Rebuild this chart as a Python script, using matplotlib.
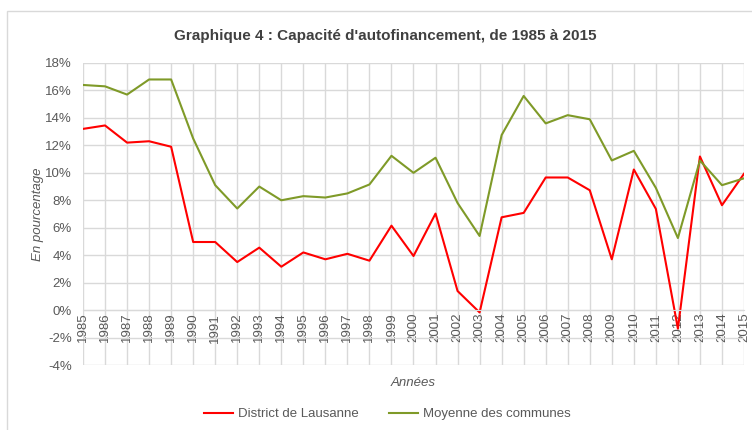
import matplotlib.pyplot as plt
from matplotlib.patches import Rectangle
from matplotlib.ticker import FuncFormatter, MultipleLocator

# Data (percent)
years = list(range(1985, 2016))
lausanne = [13.2, 13.45, 12.2, 12.3, 11.9, 4.96, 4.96, 3.5, 4.55, 3.16,
            4.2, 3.7, 4.1, 3.6, 6.15, 3.94, 7.03, 1.39, -0.17, 6.76,
            7.08, 9.66, 9.66, 8.73, 3.7, 10.24, 7.37, -1.35, 11.19, 7.64, 9.93]
moyenne = [16.4, 16.3, 15.7, 16.8, 16.8, 12.5, 9.1, 7.4, 9.0, 8.0,
           8.3, 8.2, 8.5, 9.15, 11.24, 10.0, 11.1, 7.8, 5.4, 12.75,
           15.6, 13.6, 14.2, 13.9, 10.9, 11.6, 8.9, 5.25, 10.9, 9.1, 9.6]

plt.rcParams['font.family'] = ['Liberation Sans Narrow', 'Liberation Sans', 'DejaVu Sans']
txt = '#595959'
grid = '#d9d9d9'

fig = plt.figure(figsize=(7.52, 4.30), dpi=100)
# outer chart border
fig.patches.append(Rectangle((7 / 752, -0.05), 1.2, 1 - 11 / 430 + 0.05,
                             transform=fig.transFigure, fill=False,
                             edgecolor=grid, linewidth=1))

ax = fig.add_axes([83 / 752, 1 - 365 / 430, (744 - 83) / 752, (365 - 63) / 430])

ax.plot(years, lausanne, color='#ff0000', lw=1.5, label='District de Lausanne')
ax.plot(years, moyenne, color='#7f9a28', lw=1.5, label='Moyenne des communes')

ax.set_xlim(1985, 2015)
ax.set_ylim(-4, 18)
ax.yaxis.set_major_locator(MultipleLocator(2))
ax.yaxis.set_major_formatter(FuncFormatter(lambda v, p: '%d%%' % v))
ax.set_xticks(years)
ax.set_xticklabels([str(y) for y in years])
ax.grid(True, color=grid, lw=1)
ax.set_axisbelow(True)

for s in ['top', 'right', 'left']:
    ax.spines[s].set_visible(False)
ax.spines['bottom'].set_position(('data', 0))
ax.spines['bottom'].set_color(grid)
ax.tick_params(axis='both', length=0, labelsize=9.5, colors=txt)
ax.tick_params(axis='x', pad=2, labelrotation=90)
ax.tick_params(axis='y', pad=8)

ax.set_ylabel('En pourcentage', style='italic', color=txt, fontsize=9.5, labelpad=1)
ax.text(0.5, -0.04, 'Années', transform=ax.transAxes, ha='center', va='top',
        style='italic', color=txt, fontsize=9.5)

fig.text(0.512, 1 - 36 / 430, "Graphique 4 : Capacité d'autofinancement, de 1985 à 2015",
         ha='center', va='center', fontsize=11, fontweight='bold', color='#404040')

fig.legend(loc='center', bbox_to_anchor=(0.515, 1 - 414 / 430), ncol=2,
           frameon=False, fontsize=9.5, labelcolor=txt, handlelength=2.2,
           handletextpad=0.4, columnspacing=2.3)

fig.savefig('out.png', dpi=100)
